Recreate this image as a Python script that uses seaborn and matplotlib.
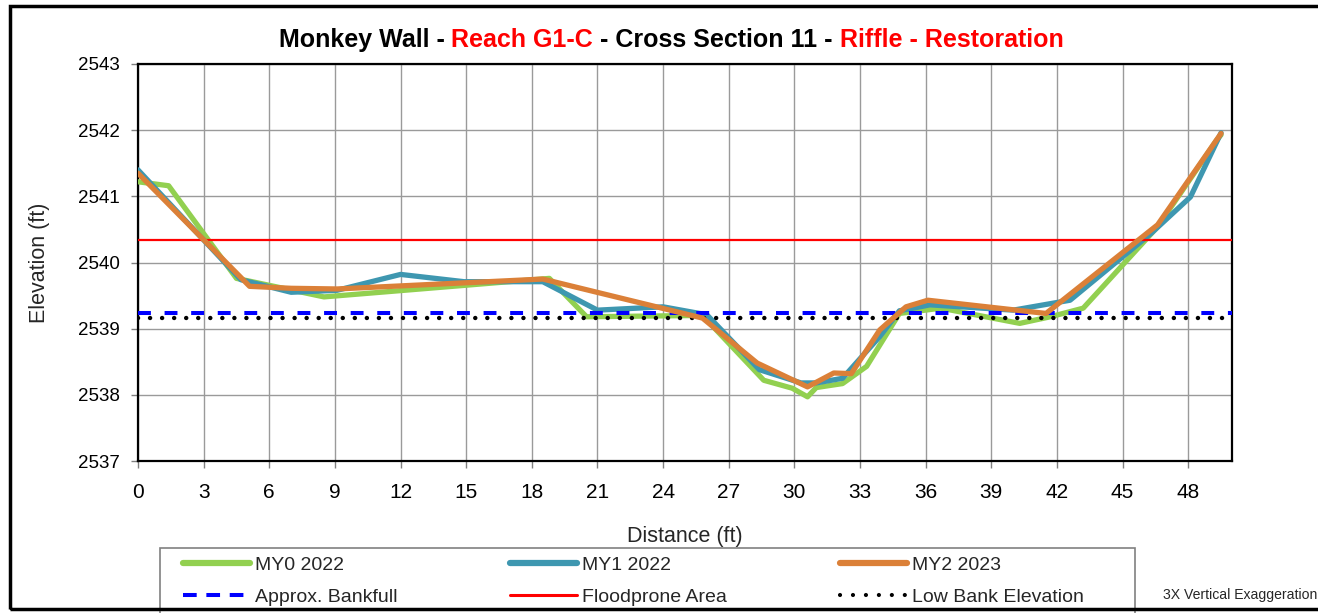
import matplotlib
matplotlib.use("Agg")
import matplotlib.pyplot as plt
from matplotlib.patches import Rectangle
from matplotlib.lines import Line2D
import seaborn as sns
import numpy as np

# ─────────────────────────────────────────────
# Data
# ─────────────────────────────────────────────
my0_x = [0.0, 1.4, 4.5, 8.5, 18.8, 20.5, 25.8, 28.6, 29.9, 30.6, 31.0, 32.2, 33.3, 34.8, 36.7, 40.3, 41.7, 43.2, 46.6, 49.3, 49.5]
my0_y = [2541.22, 2541.16, 2539.76, 2539.48, 2539.76, 2539.18, 2539.20, 2538.22, 2538.10, 2537.97, 2538.11, 2538.17, 2538.43, 2539.23, 2539.31, 2539.08, 2539.18, 2539.31, 2540.54, 2541.85, 2541.93]

my1_x = [0.0, 4.7, 7.0, 9.1, 12.0, 14.9, 18.5, 21.0, 24.0, 26.0, 28.4, 30.3, 31.0, 32.2, 33.9, 34.8, 36.2, 40.0, 42.6, 46.3, 48.1, 49.5]
my1_y = [2541.40, 2539.74, 2539.55, 2539.58, 2539.82, 2539.71, 2539.71, 2539.28, 2539.33, 2539.21, 2538.38, 2538.18, 2538.18, 2538.25, 2538.88, 2539.27, 2539.36, 2539.28, 2539.43, 2540.44, 2540.99, 2541.96]

my2_x = [0.0, 5.1, 7.0, 9.1, 18.5, 25.8, 28.3, 30.6, 31.8, 32.6, 33.9, 35.1, 36.1, 41.5, 46.6, 49.5]
my2_y = [2541.35, 2539.64, 2539.61, 2539.60, 2539.75, 2539.16, 2538.48, 2538.12, 2538.33, 2538.32, 2538.98, 2539.33, 2539.43, 2539.23, 2540.57, 2541.95]

bankfull_elev   = 2539.24
floodprone_elev = 2540.34
lowbank_elev    = 2539.16

x_ticks = list(range(0, 49, 3))
y_ticks = list(range(2537, 2544))

title_parts = [("Monkey Wall - ", "black"), ("Reach G1-C", "red"),
               (" - Cross Section 11 - ", "black"), ("Riffle - Restoration", "red")]

GREEN  = "#92D050"
TEAL   = "#3E97B0"
ORANGE = "#DB8038"

# ─────────────────────────────────────────────
# Figure
# ─────────────────────────────────────────────
sns.set_style("white")
plt.rcParams["font.family"] = ["Liberation Sans", "DejaVu Sans"]

W, H = 1318, 613
fig = plt.figure(figsize=(W / 100, H / 100), dpi=100)
ax = fig.add_axes([138 / W, 1 - 461 / H, (1232 - 138) / W, (461 - 64) / H])

sns.lineplot(x=my0_x, y=my0_y, ax=ax, color=GREEN,  lw=3.8, sort=False, estimator=None, zorder=3)
sns.lineplot(x=my1_x, y=my1_y, ax=ax, color=TEAL,   lw=3.8, sort=False, estimator=None, zorder=4)
ax.axhline(bankfull_elev,   color="blue",  lw=2.9, ls=(0, (3.2, 3.4)), zorder=5)
ax.axhline(lowbank_elev,    color="black", lw=3.2, ls=(0, (0.01, 2.7)), dash_capstyle="round", zorder=5)
ax.axhline(floodprone_elev, color="red",   lw=1.6, zorder=5)
sns.lineplot(x=my2_x, y=my2_y, ax=ax, color=ORANGE, lw=3.8, sort=False, estimator=None, zorder=6)

ax.set_xlim(0, 50)
ax.set_ylim(2537, 2543)
ax.set_xticks(x_ticks)
ax.set_yticks(y_ticks)
ax.grid(True, color="#9a9a9a", lw=1.0)
ax.set_axisbelow(True)
for s in ax.spines.values():
    s.set_color("black"); s.set_linewidth(1.6)
ax.tick_params(axis="both", which="major", direction="out", length=5, width=1,
               color="#808080", labelcolor="black", bottom=True, left=True)
ax.tick_params(axis="x", pad=11, labelsize=15)
ax.tick_params(axis="y", pad=8, labelsize=13.5)
ax.set_xlabel("Distance (ft)", fontsize=15.5, labelpad=17)
ax.set_ylabel("Elevation (ft)", fontsize=15.5, labelpad=20)

# multi-coloured title, centred on the reference position
fig.canvas.draw()
renderer = fig.canvas.get_renderer()
texts = []
for s, c in title_parts:
    t = fig.text(0, 1 - 40 / H, s, color=c, fontsize=18, fontweight="bold", va="center", ha="left")
    texts.append(t)
widths = [t.get_window_extent(renderer).width for t in texts]
x0 = 671 - sum(widths) / 2
for t, w in zip(texts, widths):
    t.set_x(x0 / W)
    x0 += w

# legend
handles = [
    Line2D([], [], color=GREEN, lw=4.5, solid_capstyle="round"),
    Line2D([], [], color="blue", lw=2.9, ls=(0, (3.4, 2.4))),
    Line2D([], [], color=TEAL, lw=4.5, solid_capstyle="round"),
    Line2D([], [], color="red", lw=2.2),
    Line2D([], [], color=ORANGE, lw=4.5, solid_capstyle="round"),
    Line2D([], [], color="black", lw=3, ls=(0, (0.01, 3.1)), dash_capstyle="round"),
]
labels = ["MY0 2022", "Approx. Bankfull", "MY1 2022", "Floodprone Area", "MY2 2023", "Low Bank Elevation"]
fig.legend(handles, labels, ncol=3, loc="upper left", bbox_to_anchor=(179 / W, 1 - 552 / H),
           frameon=False, fontsize=14, handlelength=3.45, handletextpad=0.25,
           columnspacing=5.8, labelspacing=0.75, borderaxespad=0, borderpad=0.2)
fig.patches.append(Rectangle((160 / W, -0.05), (1135 - 160) / W, 0.05 + (613 - 548) / H,
                             transform=fig.transFigure, fill=False, ec="#808080", lw=1.2))
fig.text(1163 / W, 1 - 595 / H, "3X Vertical Exaggeration", fontsize=10.1, va="center", ha="left")

# outer frame (cut off on the right like the source)
fig.patches.append(Rectangle((10 / W, 1 - 609 / H), 1.1, (609 - 6) / H,
                             transform=fig.transFigure, fill=False, ec="black", lw=2.5))

fig.savefig("out.png", dpi=100)
